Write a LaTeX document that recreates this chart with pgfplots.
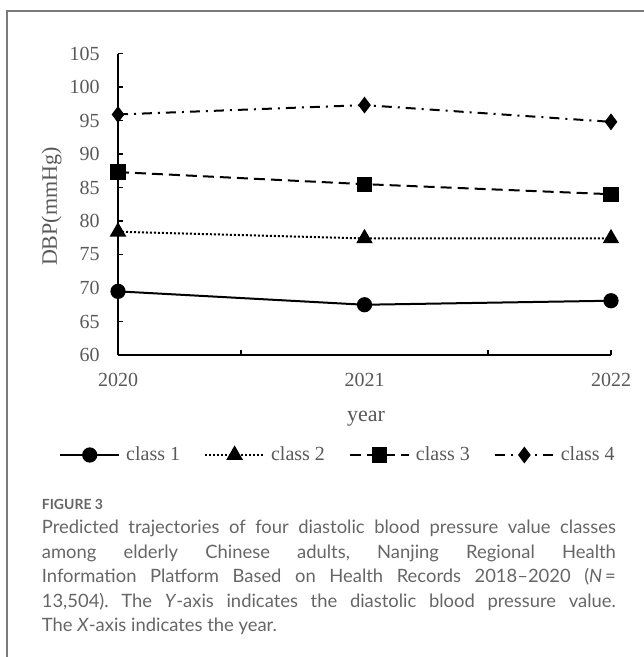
\documentclass[border=0pt]{standalone}
\usepackage{fontspec}
\setmainfont{Liberation Serif}
\newfontfamily\capfont[Ligatures=TeX]{Lato}
\usepackage{pgfplots}
\pgfplotsset{compat=1.18}
\definecolor{ticktext}{HTML}{595959}
\definecolor{captext}{HTML}{666666}
\definecolor{framecol}{HTML}{7A7A7A}
\pgfplotsset{
  mylegend/.style={legend image code/.code={\draw[mark repeat=2,mark phase=2,##1] plot coordinates {(0bp,0bp) (14.75bp,0bp) (29.5bp,0bp)};}}
}
\begin{document}
\begin{tikzpicture}
\path[use as bounding box] (0,0) rectangle (322bp,328.5bp);
\begin{axis}[
  at={(59bp,151bp)}, anchor=south west,
  scale only axis, width=246.5bp, height=150.75bp,
  xmin=0, xmax=2, ymin=60, ymax=105,
  axis x line*=bottom, axis y line*=left,
  axis line style={-, line width=1bp, black},
  ytick={60,65,...,105},
  xtick={0.5,1.5,2}, xticklabels={},
  extra x ticks={0,1,2}, extra x tick labels={2020,2021,2022},
  extra x tick style={major tick length=0pt},
  tick align=inside, major tick length=2.5bp,
  tick style={black, line width=0.8bp},
  /pgf/number format/assume math mode=true,
  tick label style={text=ticktext, font=\fontsize{10bp}{12bp}\selectfont},
  yticklabel style={inner sep=0pt, anchor=east, xshift=-9bp},
  xticklabel style={inner sep=0pt, anchor=north, yshift=-9bp},
  clip=false,
  mylegend,
  legend style={at={(0.4442,-0.3317)}, anchor=center, draw=none, fill=none,
    legend columns=4, text=ticktext, font=\fontsize{10bp}{12bp}\selectfont,
    nodes={inner sep=0pt},
    /tikz/every odd column/.append style={column sep=3bp},
    /tikz/every even column/.append style={column sep=12bp}},
]
\addplot[black, line width=1bp, mark=*, mark size=3.3bp, mark options={solid}]
  coordinates {(0,69.5) (1,67.5) (2,68.1)};
\addlegendentry{class 1}
\addplot[black, line width=1bp, dash pattern=on 1bp off 1bp, mark=triangle*, mark size=3.8bp, mark options={solid}]
  coordinates {(0,78.4) (1,77.4) (2,77.4)};
\addlegendentry{class 2}
\addplot[black, line width=1bp, dash pattern=on 5.5bp off 3bp, mark=square*, mark size=3.3bp, mark options={solid}]
  coordinates {(0,87.3) (1,85.5) (2,84.0)};
\addlegendentry{class 3}
\addplot[black, line width=1bp, dash pattern=on 5bp off 3bp on 1bp off 3bp, mark=diamond*, mark size=3.4bp, mark options={solid}]
  coordinates {(0,95.9) (1,97.3) (2,94.8)};
\addlegendentry{class 4}
\end{axis}
\begin{scope}[x=0.5bp,y=-0.5bp,shift={(0bp,328.5bp)}]
\draw[framecol, line width=0.6bp] (7,660) -- (7,11) -- (646,11);
\node[text=ticktext, font=\fontsize{11bp}{13bp}\selectfont, anchor=base, inner sep=0pt] at (366,422) {year};
\node[text=ticktext, font=\fontsize{11bp}{13bp}\selectfont, rotate=90, inner sep=0pt] at (51.7,206.7) {DBP(mmHg)};
\node[anchor=base west, inner sep=0pt, text=captext] at (41.5,510) {\capfont\bfseries\fontsize{7bp}{8bp}\selectfont FIGURE 3};
\node[anchor=base west, inner sep=0pt, text=captext] at (41.5,534) {\parbox[t]{287bp}{\capfont\fontsize{9.2bp}{12.25bp}\selectfont\frenchspacing\emergencystretch=3em\hbadness=10000\hfuzz=20pt
Predicted trajectories of four diastolic blood pressure value classes\linebreak
among elderly Chinese adults, Nanjing Regional Health\linebreak
Information Platform Based on Health Records 2018–2020 (\textit{N}\,=\linebreak
13,504). The \textit{Y}-axis indicates the diastolic blood pressure value.\linebreak
The \textit{X}-axis indicates the year.}};
\end{scope}
\end{tikzpicture}
\end{document}
